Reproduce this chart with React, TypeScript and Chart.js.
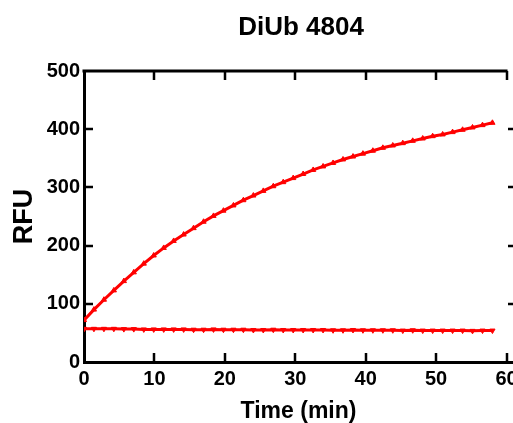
import React, { useEffect, useRef } from "react";
import { Chart, registerables } from "chart.js";

Chart.register(...registerables);

const chartTitle = "DiUb 4804";
const xAxisTitle = "Time (min)";
const yAxisTitle = "RFU";

const timesMin = [
  0, 1.41, 2.83, 4.24, 5.66, 7.07, 8.49, 9.9, 11.32, 12.73, 14.15, 15.56, 16.98, 18.39,
  19.8, 21.22, 22.63, 24.05, 25.46, 26.88, 28.29, 29.71, 31.12, 32.54, 33.95, 35.37,
  36.78, 38.2, 39.61, 41.02, 42.44, 43.85, 45.27, 46.68, 48.1, 49.51, 50.93, 52.34,
  53.76, 55.17, 56.59, 58.0,
];

const diubRfu = [
  72, 90, 107, 123, 139, 154, 169, 183, 196, 208, 219, 230, 241, 251, 260, 269, 278, 286,
  294, 302, 309, 316, 323, 330, 336, 342, 348, 353, 358, 363, 368, 372, 376, 380, 384,
  388, 391, 395, 399, 403, 407, 411,
];

const blankRfu = [
  57, 57, 57, 57, 56.5, 56.5, 56, 56, 56, 56, 56, 55.5, 55.5, 56, 55.5, 55.5, 55.5, 55,
  55, 55.5, 55, 55, 55, 55, 55, 54.5, 54.5, 55, 54.5, 54.5, 54.5, 54.5, 54, 54.5, 54,
  54, 54, 54, 54, 53.5, 54, 54,
];

const xTickValues = [0, 10, 20, 30, 40, 50, 60];
const yTickValues = [0, 100, 200, 300, 400, 500];

const framePlugin = {
  id: "prismFrame",
  afterDraw(chart: any) {
    const ctx = chart.ctx;
    const xs = chart.scales.x;
    const ys = chart.scales.y;
    const left = xs.getPixelForValue(0);
    const x60 = xs.getPixelForValue(60);
    const top = ys.getPixelForValue(500);
    const bottom = ys.getPixelForValue(0);
    ctx.save();
    ctx.strokeStyle = "#000";
    ctx.lineCap = "butt";
    ctx.lineWidth = 3;
    ctx.beginPath();
    ctx.moveTo(left - 1.5, top);
    ctx.lineTo(x60 + 1, top);
    ctx.stroke();
    ctx.lineWidth = 2.5;
    ctx.beginPath();
    for (const t of xTickValues) {
      if (t === 0) continue;
      const px = Math.round(xs.getPixelForValue(t));
      ctx.moveTo(px, top);
      ctx.lineTo(px, top + 9);
      ctx.moveTo(px, bottom);
      ctx.lineTo(px, bottom - 9);
    }
    for (const v of yTickValues) {
      if (v === 0 || v === 500) continue;
      const py = Math.round(ys.getPixelForValue(v));
      ctx.moveTo(left, py);
      ctx.lineTo(left + 9, py);
      ctx.moveTo(chart.width - 5, py);
      ctx.lineTo(chart.width, py);
    }
    ctx.stroke();
    ctx.fillStyle = "#000";
    ctx.font = 'bold 26px "Liberation Sans", Arial, sans-serif';
    ctx.textAlign = "center";
    ctx.textBaseline = "alphabetic";
    ctx.fillText(chartTitle, 301, 35);
    ctx.restore();
  },
};

export default function App() {
  const canvasRef = useRef<HTMLCanvasElement | null>(null);

  useEffect(() => {
    document.body.style.margin = "0";
    const canvas = canvasRef.current;
    if (!canvas) return;
    const font = '"Liberation Sans", Arial, sans-serif';
    const chart = new Chart(canvas, {
      type: "scatter",
      data: {
        datasets: [
          {
            label: "DiUb 4804",
            data: timesMin.map((t, i) => ({ x: t, y: diubRfu[i] })),
            showLine: true,
            borderColor: "#ff0000",
            backgroundColor: "#ff0000",
            borderWidth: 3,
            pointStyle: "triangle",
            pointRadius: 3,
            pointBorderWidth: 1,
          },
          {
            label: "Blank",
            data: timesMin.map((t, i) => ({ x: t, y: blankRfu[i] })),
            showLine: true,
            borderColor: "#ff0000",
            backgroundColor: "#ff0000",
            borderWidth: 3,
            pointStyle: "triangle",
            pointRotation: 180,
            pointRadius: 3,
            pointBorderWidth: 1,
          },
        ],
      },
      options: {
        animation: false,
        responsive: false,
        maintainAspectRatio: false,
        layout: { autoPadding: false, padding: { top: 71, right: 0, bottom: 0, left: 0 } },
        plugins: {
          legend: { display: false },
          tooltip: { enabled: false },
          title: { display: false },
        },
        scales: {
          x: {
            type: "linear",
            min: 0,
            max: 60.92,
            afterFit: (s: any) => {
              s.height = 61;
              s.paddingLeft = 0;
              s.paddingRight = 0;
            },
            grid: { display: false, drawTicks: false },
            border: { display: true, color: "#000", width: 3 },
            ticks: {
              stepSize: 10,
              includeBounds: false,
              padding: 5,
              color: "#000",
              font: { family: font, size: 20, weight: "bold" },
              maxRotation: 0,
              autoSkip: false,
            },
            title: {
              display: true,
              text: xAxisTitle,
              color: "#000",
              font: { family: font, size: 23, weight: "bold", lineHeight: 1 },
              padding: { top: 0, bottom: 0 },
            },
          },
          y: {
            type: "linear",
            min: 0,
            max: 500,
            afterFit: (s: any) => {
              s.width = 84;
              s.paddingTop = 0;
              s.paddingBottom = 0;
            },
            grid: { display: false, drawTicks: false },
            border: { display: true, color: "#000", width: 3 },
            ticks: {
              stepSize: 100,
              padding: 4,
              color: "#000",
              font: { family: font, size: 20, weight: "bold" },
            },
            title: {
              display: true,
              text: yAxisTitle,
              color: "#000",
              font: { family: font, size: 27, weight: "bold" },
              padding: { top: 8, bottom: 0 },
            },
          },
        },
      },
      plugins: [framePlugin],
    });
    return () => chart.destroy();
  }, []);

  return (
    <div style={{ width: 513, height: 423 }}>
      <canvas ref={canvasRef} width={513} height={423} style={{ display: "block" }} />
    </div>
  );
}
